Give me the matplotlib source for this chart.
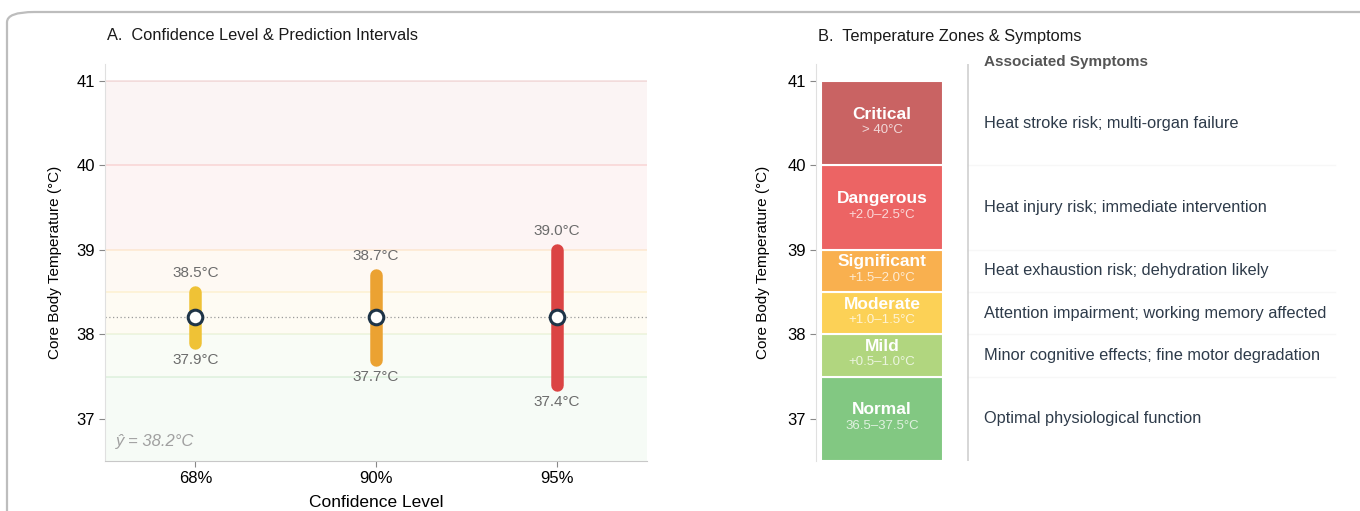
import matplotlib
matplotlib.use("Agg")
import matplotlib.pyplot as plt
from matplotlib.patches import FancyBboxPatch, Rectangle

plt.rcParams['font.family'] = ['Liberation Sans', 'DejaVu Sans']

# ---------------- data ----------------
conf_levels = ["68%", "90%", "95%"]
pred_mean = 38.2
lower = [37.9, 37.7, 37.4]
upper = [38.5, 38.7, 39.0]
bar_colors = ["#efc236", "#eba232", "#db4444"]

zone_names = ["Normal", "Mild", "Moderate", "Significant", "Dangerous", "Critical"]
zone_ranges = ["36.5\u201337.5\u00b0C", "+0.5\u20131.0\u00b0C", "+1.0\u20131.5\u00b0C",
               "+1.5\u20132.0\u00b0C", "+2.0\u20132.5\u00b0C", "> 40\u00b0C"]
zone_low = [36.5, 37.5, 38.0, 38.5, 39.0, 40.0]
zone_high = [37.5, 38.0, 38.5, 39.0, 40.0, 41.0]
zone_colors = ["#82c882", "#b1d67f", "#fcd156", "#f9b04f", "#ec6464", "#c96363"]
symptoms = ["Optimal physiological function",
            "Minor cognitive effects; fine motor degradation",
            "Attention impairment; working memory affected",
            "Heat exhaustion risk; dehydration likely",
            "Heat injury risk; immediate intervention",
            "Heat stroke risk; multi-organ failure"]
yticks = [37, 38, 39, 40, 41]

W, H = 1360, 511
fig = plt.figure(figsize=(W / 100, H / 100), dpi=100)

# outer frame (cropped rounded box)
frame = FancyBboxPatch((7 / W, -0.2), 1.2, (H - 12) / H + 0.2,
                       boxstyle="round,pad=0,rounding_size=0.02",
                       transform=fig.transFigure, fill=False,
                       edgecolor="#bdbdbd", linewidth=1.6, clip_on=False)
fig.patches.append(frame)

bottom = (H - 461) / H
height = (461 - 64) / H
ylim = (36.5, 41.2)

# ---------------- panel A ----------------
axA = fig.add_axes([105 / W, bottom, (647 - 105) / W, height])
axA.set_xlim(-0.5, 2.5)
axA.set_ylim(*ylim)
for lo, hi, c in zip(zone_low, zone_high, zone_colors):
    axA.axhspan(lo, hi, color=c, alpha=0.065, lw=0, zorder=0)
    axA.axhline(hi, color=c, alpha=0.2, lw=1.2, zorder=0.5)
axA.axhline(pred_mean, color="#9a9a9a", lw=0.9, ls=(0, (1, 2)), zorder=1)

for i, (lo, hi, c) in enumerate(zip(lower, upper, bar_colors)):
    axA.plot([i, i], [lo, hi], color=c, lw=9, solid_capstyle="round", zorder=2)
    axA.plot(i, pred_mean, "o", ms=10.5, mfc="white", mec="#1e3448", mew=2.2, zorder=3)
    axA.annotate(f"{hi:.1f}\u00b0C", (i, hi), xytext=(0, 19), textcoords="offset pixels",
                 ha="center", va="center", fontsize=11, color="#6b6b6b")
    axA.annotate(f"{lo:.1f}\u00b0C", (i, lo), xytext=(0, -17), textcoords="offset pixels",
                 ha="center", va="center", fontsize=11, color="#6b6b6b")

axA.text(0.02, 0.05, "\u0177 = 38.2\u00b0C", transform=axA.transAxes, style="italic",
         fontsize=12, color="#a0a0a0", ha="left", va="center")

axA.set_xticks(range(len(conf_levels)))
axA.set_xticklabels(conf_levels)
axA.set_yticks(yticks)
axA.tick_params(axis="both", labelsize=12, color="#888888", length=4, width=0.8, pad=3)
for s in ["top", "right"]:
    axA.spines[s].set_visible(False)
axA.spines["left"].set_color("#e0e0e0")
axA.spines["bottom"].set_color("#c8c8c8")
axA.set_xlabel("Confidence Level", fontsize=12.5)
axA.xaxis.set_label_coords(0.5, (461 - 495) / 397)
axA.set_ylabel("Core Body Temperature (\u00b0C)", fontsize=11)
axA.yaxis.set_label_coords((62 - 105) / 542, 0.5)
fig.text(107 / W, (H - 36) / H, "A.  Confidence Level & Prediction Intervals",
         fontsize=11.8, ha="left", va="center", color="#1a1a1a")

# ---------------- panel B ----------------
axB = fig.add_axes([816 / W, bottom, (1338 - 816) / W, height])
axB.set_xlim(0, 1)
axB.set_ylim(*ylim)
x0, x1 = (821 - 816) / 522, (943 - 816) / 522
sep = (968 - 816) / 522
tx = (984 - 816) / 522
for lo, hi, c, n, r, s in zip(zone_low, zone_high, zone_colors, zone_names, zone_ranges, symptoms):
    axB.add_patch(Rectangle((x0, lo), x1 - x0, hi - lo, facecolor=c,
                            edgecolor="white", lw=1.5, zorder=2))
    mid = (lo + hi) / 2
    xc = (x0 + x1) / 2
    axB.annotate(n, (xc, mid), xytext=(0, 9), textcoords="offset pixels",
                 ha="center", va="center", fontsize=12.5, fontweight="bold",
                 color="white", zorder=3)
    axB.annotate(r, (xc, mid), xytext=(0, -7), textcoords="offset pixels",
                 ha="center", va="center", fontsize=9.5, color="white", alpha=0.75, zorder=3)
    axB.text(tx, mid, s, ha="left", va="center", fontsize=11.8, color="#2e3b4a")
    if hi < 41:
        axB.plot([sep, 0.995], [hi, hi], color="#f7f7f7", lw=1, zorder=0)
axB.axvline(sep, color="#cfcfcf", lw=1.2, zorder=1)
axB.text(tx, 1.005, "Associated Symptoms", transform=axB.transAxes, ha="left",
         va="center", fontsize=11, fontweight="bold", color="#555555")

axB.set_yticks(yticks)
axB.set_xticks([])
axB.tick_params(axis="y", labelsize=12, color="#888888", length=4, width=0.8, pad=3)
for s in ["top", "right", "bottom"]:
    axB.spines[s].set_visible(False)
axB.spines["left"].set_color("#e0e0e0")
axB.set_ylabel("Core Body Temperature (\u00b0C)", fontsize=11)
axB.yaxis.set_label_coords((770 - 816) / 522, 0.5)
fig.text(818 / W, (H - 36) / H, "B.  Temperature Zones & Symptoms",
         fontsize=11.8, ha="left", va="center", color="#1a1a1a")

fig.savefig("out.png", dpi=100, facecolor="white")
